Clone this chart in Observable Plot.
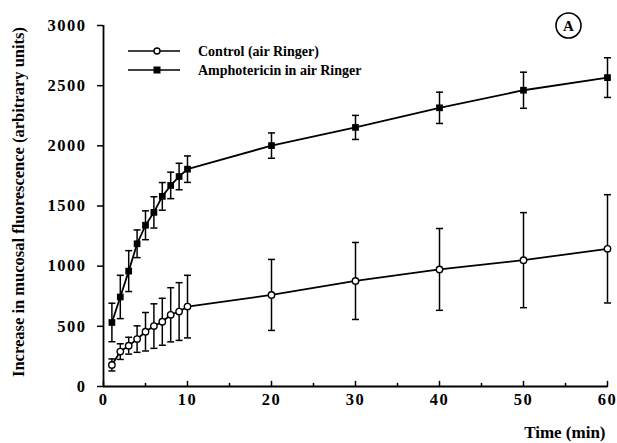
<!DOCTYPE html>
<html><head><meta charset="utf-8">
<script src="https://cdn.jsdelivr.net/npm/d3@7"></script>
<script src="https://cdn.jsdelivr.net/npm/@observablehq/plot@0.6"></script>
<style>
body{margin:0;background:#fff;}
#chart{position:relative;width:617px;height:443px;}
#chart svg text{font-family:"Liberation Serif","Times New Roman",serif;font-weight:bold;}
[aria-label="y-axis tick label"] text,[aria-label="x-axis tick label"] text{letter-spacing:1.5px;}
</style>
</head><body><div id="chart"></div>
<script>
const time = [1,2,3,4,5,6,7,8,9,10,20,30,40,50,60];
const seriesNames = ["Control (air Ringer)", "Amphotericin in air Ringer"];
const controlMean = [179,290,339,394,455,502,538,596,623,664,761,877,973,1050,1144];
const controlErr  = [50,65,70,110,160,185,195,225,240,260,295,320,340,395,450];
const amphoMean   = [532,744,959,1186,1340,1447,1580,1671,1745,1806,2002,2153,2316,2462,2567];
const amphoErr    = [160,180,170,115,120,130,115,110,110,110,105,100,130,150,165];
const xTicks = [0,10,20,30,40,50,60];
const xMinorTicks = [5,15,25,35,45,55];
const yTicks = [0,500,1000,1500,2000,2500,3000];
const yLabel = "Increase in mucosal fluorescence (arbitrary units)";
const xLabel = "Time (min)";
const panelLabel = "A";

const mk = (name, means, errs) => time.map((t, i) => ({series: name, t, mean: means[i], lo: means[i] - errs[i], hi: means[i] + errs[i]}));
const controlRows = mk(seriesNames[0], controlMean, controlErr);
const amphoRows = mk(seriesNames[1], amphoMean, amphoErr);
const rows = controlRows.concat(amphoRows);

const cap = {draw(ctx, size){ const r = Math.sqrt(size/Math.PI); ctx.moveTo(-r,0); ctx.lineTo(r,0); }};
const upTick = {draw(ctx, l){ ctx.moveTo(0,0); ctx.lineTo(0,-l); }};

const chart = Plot.plot({
  width: 617, height: 443,
  marginLeft: 103, marginRight: 10, marginTop: 25, marginBottom: 57,
  style: {background: "white", color: "black", fontSize: "14px", overflow: "visible"},
  x: {domain: [0, 60]},
  y: {domain: [0, 3000]},
  marks: [
    Plot.axisY({ticks: yTicks, tickSize: 6, tickPadding: 11, tickFormat: d => String(d), fontSize: 16.5, label: null, strokeWidth: 1.5}),
    Plot.axisX({ticks: xTicks, tickSize: 0, tickPadding: 7, tickFormat: d => String(d), fontSize: 16.5, label: null}),
    Plot.vector(xTicks, {x: d => d, frameAnchor: "bottom", length: 5, anchor: "start", shape: upTick, stroke: "black", strokeWidth: 1.5}),
    Plot.vector(xMinorTicks, {x: d => d, frameAnchor: "bottom", length: 3, anchor: "start", shape: upTick, stroke: "black", strokeWidth: 1.5}),
    Plot.ruleY([0], {strokeWidth: 1.8}),
    Plot.ruleX([0], {strokeWidth: 1.8}),
    Plot.ruleX(rows, {x: "t", y1: "lo", y2: "hi", strokeWidth: 1.5}),
    Plot.dot(rows, {x: "t", y: "lo", symbol: cap, r: 3.5, stroke: "black", strokeWidth: 1.5}),
    Plot.dot(rows, {x: "t", y: "hi", symbol: cap, r: 3.5, stroke: "black", strokeWidth: 1.5}),
    Plot.line(rows, {x: "t", y: "mean", z: "series", stroke: "black", strokeWidth: 1.8}),
    Plot.dot(controlRows, {x: "t", y: "mean", r: 3.2, fill: "white", stroke: "black", strokeWidth: 1.4}),
    Plot.dot(amphoRows, {x: "t", y: "mean", symbol: "square", r: 3.8, fill: "black", stroke: "none"}),
    Plot.text([yLabel], {frameAnchor: "left", textAnchor: "middle", lineAnchor: "middle", rotate: -90, dx: -85, dy: -4, fontSize: 16.5, text: d => d}),
    Plot.text([xLabel], {frameAnchor: "bottom-right", textAnchor: "end", lineAnchor: "middle", dx: -2, dy: 46, fontSize: 17, text: d => d}),
    Plot.dot([panelLabel], {x: null, y: null, frameAnchor: "top-right", dx: -39, dy: 0, r: 12.5, fill: "white", stroke: "black", strokeWidth: 1.6}),
    Plot.text([panelLabel], {frameAnchor: "top-right", textAnchor: "middle", lineAnchor: "middle", dx: -39, dy: 1, fontSize: 15, text: d => d})
  ]
});
document.getElementById("chart").appendChild(chart);

// Legend
const svg = d3.select(chart);
const lg = svg.append("g").attr("aria-label", "legend");
const legendItems = [{name: seriesNames[0], kind: "circle"}, {name: seriesNames[1], kind: "square"}];
legendItems.forEach((it, i) => {
  const y = 51 + i * 19;
  lg.append("line").attr("x1", 128).attr("x2", 180).attr("y1", y).attr("y2", y).attr("stroke", "black").attr("stroke-width", 1.6);
  if (it.kind === "circle") {
    lg.append("circle").attr("cx", 157).attr("cy", y).attr("r", 3).attr("fill", "white").attr("stroke", "black").attr("stroke-width", 1.4);
  } else {
    lg.append("rect").attr("x", 153.5).attr("y", y - 3.5).attr("width", 7).attr("height", 7).attr("fill", "black");
  }
  lg.append("text").attr("x", 198).attr("y", y).attr("dy", "0.35em").attr("text-anchor", "start").attr("font-size", 14).attr("fill", "black").text(it.name);
});
</script>
</body></html>
